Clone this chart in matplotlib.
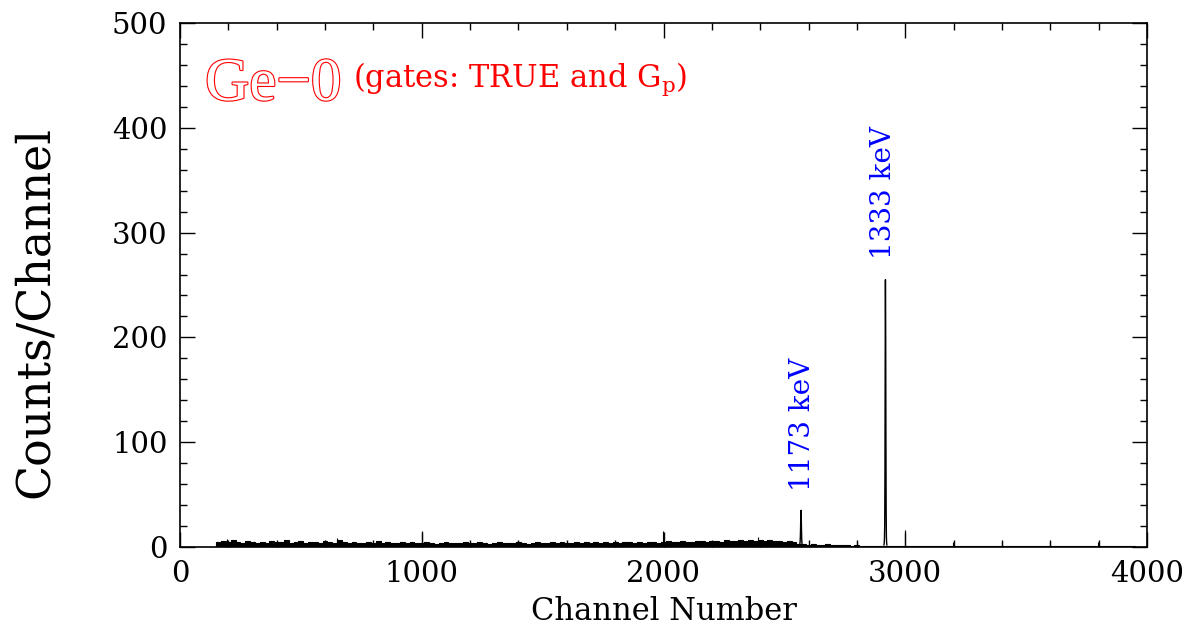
import numpy as np
import matplotlib.pyplot as plt
import matplotlib.patheffects as pe
from matplotlib.ticker import MultipleLocator

plt.rcParams['font.family'] = 'DejaVu Serif'
plt.rcParams['mathtext.fontset'] = 'dejavuserif'

# background counts, 20-channel bins starting at channel 150
bg_start = 150
bg_width = 20
bg_counts = [
    5, 6, 5, 7, 5, 4, 6, 5, 4, 5,
    4, 6, 5, 5, 7, 4, 5, 6, 4, 5,
    5, 4, 6, 5, 4, 7, 5, 4, 5, 4,
    4, 5, 4, 6, 4, 5, 4, 4, 5, 4,
    5, 4, 4, 5, 4, 3, 4, 5, 4, 4,
    4, 5, 4, 4, 5, 4, 3, 4, 5, 4,
    4, 4, 5, 4, 3, 4, 5, 4, 4, 5,
    4, 5, 4, 4, 5, 4, 5, 4, 5, 4,
    5, 4, 5, 4, 5, 5, 4, 5, 4, 5,
    5, 4, 5, 6, 5, 5, 6, 5, 5, 6,
    6, 5, 6, 6, 5, 7, 6, 6, 7, 6,
    7, 6, 7, 6, 7, 6, 6, 5, 6, 5,
    3, 3, 2, 3, 2, 2, 3, 2, 2, 2,
    2, 1, 2, 1, 1, 1, 1, 1, 1, 1,
]

# tail region, 50-channel bins starting at channel 2950
tail_start = 2950
tail_width = 50
tail_counts = [0.5, 1, 0.5, 0.5, 1, 0.5, 0.5, 0.5, 1, 0.5,
               0.5, 1, 0.5, 0.5, 0.5, 1, 0.5, 0.5, 0.5, 0.5, 0]

# single-channel spikes
spike_ch = [193, 648, 1000, 1998, 2391, 2799, 2999, 3198, 3399, 3599, 3798]
spike_counts = [8, 9, 15, 15, 10, 5, 16, 5, 5, 5, 5]

# Co-60 photopeaks (per channel)
p1173_ch = [2564, 2565, 2566, 2567, 2568, 2569, 2570, 2571, 2572, 2573, 2574]
p1173_counts = [3, 5, 9, 18, 30, 35, 26, 14, 6, 3, 2]
p1333_ch = [2912, 2913, 2914, 2915, 2916, 2917, 2918, 2919, 2920, 2921, 2922, 2923, 2924]
p1333_counts = [2, 4, 8, 20, 70, 180, 255, 210, 110, 35, 10, 4, 2]

peak_labels = ['1173 keV', '1333 keV']
peak_label_pos = [(2573, 53), (2910, 275)]

fig = plt.figure(figsize=(11.89, 6.32), dpi=100)
ax = fig.add_axes([180/1189, 1-547/632, 967/1189, 524/632])

edges = bg_start + bg_width*np.arange(len(bg_counts)+1)
ax.stairs(bg_counts, edges, fill=True, color='black', lw=0)
ax.stairs(bg_counts, edges, color='black', lw=0.8)
tedges = tail_start + tail_width*np.arange(len(tail_counts)+1)
ax.stairs(tail_counts, tedges, color='black', lw=0.8)
ax.vlines(spike_ch, 0, spike_counts, color='black', lw=0.8)

for ch, cts in [(p1173_ch, p1173_counts), (p1333_ch, p1333_counts)]:
    ax.plot(ch, cts, color='black', lw=1.0)

for lab, (x, y) in zip(peak_labels, peak_label_pos):
    ax.text(x, y, lab, rotation=90, ha='center', va='bottom',
            color='#0000ff', fontsize=20)

ax.text(0.026, 0.853, 'Ge\u22120', transform=ax.transAxes, fontsize=44,
        family='Liberation Serif', color='white', va='baseline',
        path_effects=[pe.withStroke(linewidth=1.6, foreground='red')])
ax.text(0.179, 0.878, '(gates: TRUE and G$_\\mathrm{p}$)', transform=ax.transAxes,
        fontsize=22, color='red', va='baseline')

ax.set_xlim(0, 4000)
ax.set_ylim(0, 500)
ax.xaxis.set_major_locator(MultipleLocator(1000))
ax.xaxis.set_minor_locator(MultipleLocator(200))
ax.yaxis.set_major_locator(MultipleLocator(100))
ax.yaxis.set_minor_locator(MultipleLocator(20))
ax.tick_params(which='both', direction='in', top=True, right=True,
               width=1, labelsize=21)
ax.tick_params(which='major', length=11, pad=9)
ax.tick_params(which='minor', length=5)
for s in ax.spines.values():
    s.set_linewidth(1.2)

ax.set_xlabel('Channel Number', fontsize=22, labelpad=6)
fig.text(35/1189, 1-312/632, 'Counts/Channel', rotation=90, ha='center',
         va='center', fontsize=33)

fig.savefig('out.png', dpi=100)
